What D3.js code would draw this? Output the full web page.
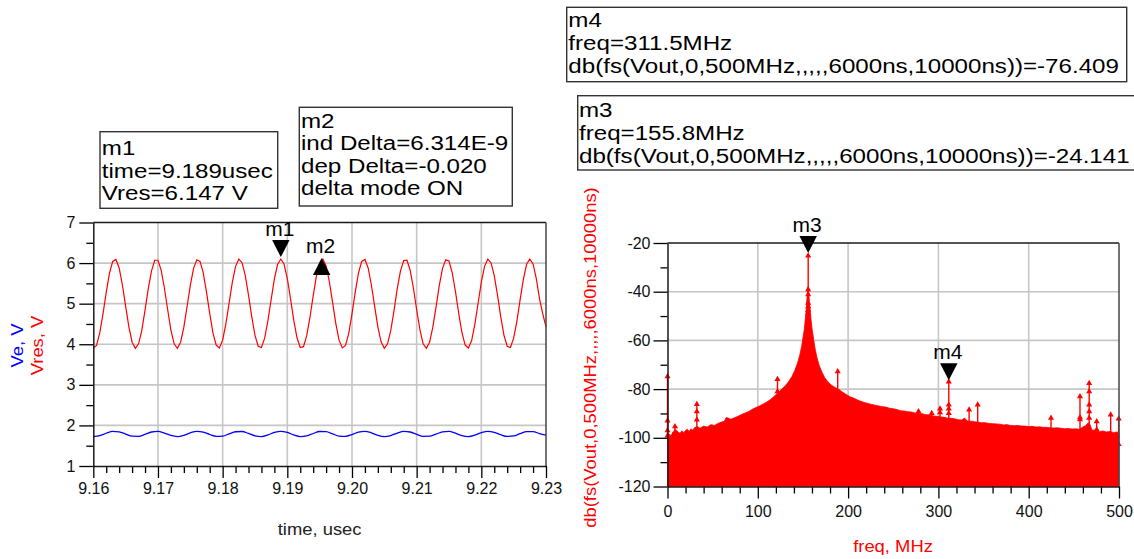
<!DOCTYPE html>
<html><head><meta charset="utf-8">
<script src="https://cdn.jsdelivr.net/npm/d3@7"></script>
<style>
html,body{margin:0;padding:0;background:#fff;}
svg{display:block;}
</style></head><body>
<svg id="c" width="1134" height="559"></svg>
<script>
// ---------------- DATA ----------------
// Left chart: transient waveforms (time in usec)
const timeStart = 9.16;
const vresStep = 0.0005;   // usec between Vres samples
const veStep = 0.001;      // usec between Ve samples
const vresValues = [
3.91,3.97,4.28,4.75,5.28,5.75,6.04,6.09,5.88,5.46,
4.94,4.43,4.05,3.90,4.01,4.34,4.84,5.37,5.81,6.07,
6.07,5.82,5.38,4.85,4.35,4.01,3.90,4.05,4.42,4.93,
5.45,5.87,6.08,6.04,5.76,5.29,4.76,4.28,3.98,3.91,
4.10,4.50,5.02,5.53,5.92,6.10,6.01,5.69,5.21,4.68,
4.22,3.95,3.92,4.15,4.58,5.10,5.61,5.97,6.10,5.97,
5.62,5.12,4.59,4.16,3.92,3.94,4.21,4.66,5.19,5.68,
6.01,6.10,5.93,5.54,5.03,4.51,4.10,3.91,3.97,4.27,
4.75,5.28,5.75,6.04,6.09,5.88,5.46,4.94,4.43,4.06,
3.90,4.01,4.34,4.83,5.37,5.81,6.06,6.07,5.82,5.38,
4.85,4.36,4.01,3.90,4.05,4.42,4.92,5.45,5.87,6.08,
6.05,5.76,5.30,4.76,4.29,3.98,3.91,4.09,4.49,5.01,
5.53,5.92,6.10,6.01,5.69,5.21,4.68,4.22,3.95,3.92,
4.15,4.57,5.10,5.60,5.97,6.10,5.98,5.62,5.12,4.75,
4.43];
const veValues = [
1.726,1.748,1.807,1.851,1.842,1.786,1.734,1.732,1.781,1.838,
1.853,1.812,1.752,1.725,1.756,1.817,1.854,1.835,1.776,1.730,
1.737,1.791,1.844,1.850,1.802,1.744,1.726,1.765,1.826,1.855,
1.827,1.766,1.726,1.743,1.801,1.850,1.845,1.792,1.737,1.729,
1.775,1.834,1.854,1.817,1.756,1.725,1.751,1.812,1.853,1.838,
1.781,1.732,1.734,1.785,1.841,1.852,1.808,1.748,1.726,1.760,
1.821,1.855,1.831,1.771,1.728,1.740,1.796,1.847,1.848,1.797,
1.760];
const timeTicks = [9.16,9.17,9.18,9.19,9.20,9.21,9.22,9.23];
const timeTickLabels = ["9.16","9.17","9.18","9.19","9.20","9.21","9.22","9.23"];
const voltTicks = [1,2,3,4,5,6,7];
const voltTickLabels = ["1","2","3","4","5","6","7"];

// Right chart: spectrum (freq MHz, dB)
const spectrumFloor = [
[0,-99.5],[2,-98.4],[4,-99.2],[6,-97.6],[8,-98.3],[10,-96.9],[12,-97.8],[14,-98.1],[16,-97.1],[18,-97.9],
[20,-97.0],[22,-96.5],[24,-97.4],[26,-96.3],[28,-96.9],[30,-95.8],[33,-95.4],[36,-96.1],[40,-95.2],[44,-95.6],
[48,-94.6],[52,-94.9],[56,-94.1],[60,-93.5],[63,-93.2],[65,-91.7],[67,-91.9],[70,-92.4],[74,-91.8],[78,-91.2],
[82,-90.4],[86,-89.8],[90,-89.2],[94,-88.3],[98,-87.6],[102,-86.9],[106,-86.1],[110,-85.3],[114,-84.3],[118,-83.0],
[122,-81.6],[126,-80.2],[130,-78.8],[134,-77.0],[138,-74.7],[141,-72.3],[144,-69.3],[146.5,-66.0],[148.5,-62.5],[150,-59.0],
[151.5,-55.5],[152.7,-51.0],[153.7,-47.0],[154.6,-42.0],[155.3,-39.0],[155.8,-38.0],[156.4,-40.0],[157.1,-44.0],[158,-47.5],[159,-51.5],
[160.2,-55.5],[161.8,-59.5],[163.5,-63.5],[165.5,-67.0],[168,-70.3],[171,-73.0],[174,-75.2],[178,-77.2],[182,-78.5],[186,-79.4],
[190,-80.2],[194,-81.3],[198,-82.2],[202,-83.1],[206,-83.7],[210,-84.4],[214,-85.0],[218,-85.5],[222,-85.9],[226,-86.3],
[230,-86.6],[234,-86.9],[238,-87.2],[242,-87.4],[246,-87.9],[250,-88.1],[254,-88.4],[258,-88.9],[262,-89.0],[266,-89.3],
[270,-89.4],[274,-89.8],[278,-90.0],[282,-90.1],[286,-90.5],[290,-90.6],[294,-91.0],[298,-91.2],[302,-91.4],[306,-91.6],
[310,-91.9],[314,-92.0],[318,-92.2],[322,-92.6],[326,-92.7],[329,-91.9],[332,-93.1],[336,-93.2],[340,-93.4],[344,-93.6],
[348,-93.8],[352,-93.8],[356,-94.1],[360,-94.2],[364,-94.3],[368,-94.4],[372,-94.7],[376,-94.6],[380,-94.9],[384,-95.0],
[388,-94.9],[392,-95.2],[396,-95.2],[400,-95.4],[404,-95.3],[408,-95.6],[412,-95.5],[416,-95.7],[420,-95.7],[424,-95.9],
[428,-96.0],[432,-95.9],[436,-96.1],[440,-96.3],[444,-96.2],[448,-96.4],[452,-96.3],[456,-96.5],[460,-95.6],[463,-95.0],
[466,-93.8],[468,-94.6],[470,-96.8],[474,-97.0],[478,-97.5],[482,-97.2],[486,-97.6],[490,-97.4],[494,-97.9],[498,-97.6],
[500,-98.0]];
// spikes: [freq, top dB, extra marked points below the top]
const spectrumSpikes = [
[0,-74.2,[-92.4,-96.4,-98.5]],
[8.3,-94.7,[-97.0]],
[32.5,-85.6,[-88.6,-92.0]],
[121.8,-75.3,[-80.4]],
[155.8,-24.6,[-38.5,-40.5,-44.0,-45.5,-47.0,-48.5,-50.0]],
[188.5,-72.2,[]],
[278.0,-88.6,[]],
[292.6,-89.3,[]],
[301.8,-87.5,[-89.0]],
[311.5,-76.4,[-85.8,-87.5,-89.3]],
[334.0,-87.9,[]],
[343.5,-85.8,[]],
[424.7,-91.3,[]],
[456.8,-82.4,[-91.0,-91.9]],
[467.0,-77.0,[-80.4,-85.8,-88.6,-91.3]],
[475.3,-92.7,[-96.0]],
[490.8,-89.9,[]],
[499.6,-91.6,[-102.0]]];
const freqTicks = [0,100,200,300,400,500];
const freqTickLabels = ["0","100","200","300","400","500"];
const dbTicks = [-120,-100,-80,-60,-40,-20];
const dbTickLabels = ["-120","-100","-80","-60","-40","-20"];

// markers
const markerNames = ["m1","m2","m3","m4"];
const markerX = [9.189, 9.195314, 155.8, 311.5];
const markerY = [6.147, 6.127, -24.141, -76.409];
const markerDir = ["down","up","down","down"];
const markerChart = ["L","L","R","R"];

// readout boxes
const m1Lines = ["m1","time=9.189usec","Vres=6.147 V"];
const m2Lines = ["m2","ind Delta=6.314E-9","dep Delta=-0.020","delta mode ON"];
const m4Lines = ["m4","freq=311.5MHz","db(fs(Vout,0,500MHz,,,,,6000ns,10000ns))=-76.409"];
const m3Lines = ["m3","freq=155.8MHz","db(fs(Vout,0,500MHz,,,,,6000ns,10000ns))=-24.141"];

// axis titles
const leftTitles = ["Ve, V","Vres, V"];
const leftTitleColors = ["#0000ff","#ff0000"];
const timeTitle = "time, usec";
const freqTitle = "freq, MHz";
const dbTitle = "db(fs(Vout,0,500MHz,,,,,6000ns,10000ns)";

// ---------------- DRAW ----------------
const FONT = '"Liberation Sans", Arial, Helvetica, sans-serif';
const RED = "#ff0000", BLUE = "#0000ff", GRID = "#c6c6c6", AX = "#1a1a1a";
const SX = 1.15; // horizontal stretch of the ADS font
const svg = d3.select("#c").attr("font-family", FONT);

function stretchedText(g, str, x, y, size, color, anchor, rot) {
  const t = g.append("g").attr("transform", `translate(${x},${y})` + (rot ? ` rotate(${rot})` : "") + ` scale(${SX},1)`);
  t.append("text").attr("x", 0).attr("y", 0).attr("font-size", size).attr("fill", color)
    .attr("text-anchor", anchor || "start").text(str);
}

function styleAxis(g, pad) {
  g.select(".domain").attr("stroke", AX).attr("stroke-width", 1.5);
  g.selectAll(".tick line").attr("stroke", "#000").attr("stroke-width", 1.3);
  g.selectAll(".tick text").attr("font-size", 16).attr("fill", "#111").attr("font-family", FONT);
}

function drawPanel(opt) {
  const {xS, yS, xTicks, xLabels, xMinor, yTicks, yLabels, yMinor, xPad, yPad} = opt;
  const [x0, x1] = xS.range();
  const [yb, yt] = yS.range();
  const g = svg.append("g");
  // grid
  g.selectAll(null).data(xTicks.slice(1, -1)).join("line")
    .attr("x1", d => xS(d)).attr("x2", d => xS(d)).attr("y1", yt).attr("y2", yb)
    .attr("stroke", GRID).attr("stroke-width", 1.6);
  g.selectAll(null).data(yTicks.slice(1, -1)).join("line")
    .attr("y1", d => yS(d)).attr("y2", d => yS(d)).attr("x1", x0).attr("x2", x1)
    .attr("stroke", GRID).attr("stroke-width", 1.6);
  const content = svg.append("g");
  const axes = svg.append("g");
  // frame top & right
  axes.append("line").attr("x1", x0).attr("x2", x1).attr("y1", yt).attr("y2", yt).attr("stroke", AX).attr("stroke-width", 1.5);
  axes.append("line").attr("x1", x1).attr("x2", x1).attr("y1", yt).attr("y2", yb).attr("stroke", "#444").attr("stroke-width", 1.5);
  // minor ticks
  axes.append("g").attr("transform", `translate(0,${yb})`)
    .call(d3.axisBottom(xS).tickValues(xMinor).tickSize(7).tickSizeOuter(0).tickFormat(""))
    .call(g => { g.select(".domain").remove(); styleAxis(g); });
  axes.append("g").attr("transform", `translate(${x0},0)`)
    .call(d3.axisLeft(yS).tickValues(yMinor).tickSize(7).tickSizeOuter(0).tickFormat(""))
    .call(g => { g.select(".domain").remove(); styleAxis(g); });
  // major
  axes.append("g").attr("transform", `translate(0,${yb})`)
    .call(d3.axisBottom(xS).tickValues(xTicks).tickSize(12).tickSizeOuter(0).tickPadding(xPad)
      .tickFormat((d, i) => xLabels[i]))
    .call(g => styleAxis(g));
  axes.append("g").attr("transform", `translate(${x0},0)`)
    .call(d3.axisLeft(yS).tickValues(yTicks).tickSize(14).tickSizeOuter(0).tickPadding(yPad)
      .tickFormat((d, i) => yLabels[i]))
    .call(g => styleAxis(g));
  return {content, axes};
}

// ---- Left panel
const xL = d3.scaleLinear().domain([9.16, 9.23]).range([93.3, 546]);
const yL = d3.scaleLinear().domain([1, 7]).range([466, 222.5]);
const timeMinor = d3.range(0, 36).filter(k => k % 5 !== 0).map(k => 9.16 + k * 0.002);
const voltMinor = [1.5, 2.5, 3.5, 4.5, 5.5, 6.5];
const L = drawPanel({xS: xL, yS: yL, xTicks: timeTicks, xLabels: timeTickLabels, xMinor: timeMinor,
  yTicks: voltTicks, yLabels: voltTickLabels, yMinor: voltMinor, xPad: 5, yPad: 4});

L.content.append("path").datum(veValues)
  .attr("d", d3.line().x((d, i) => xL(timeStart + i * veStep)).y(d => yL(d)).curve(d3.curveMonotoneX))
  .attr("fill", "none").attr("stroke", BLUE).attr("stroke-width", 1.3);
L.content.append("path").datum(vresValues)
  .attr("d", d3.line().x((d, i) => xL(timeStart + i * vresStep)).y(d => yL(d)))
  .attr("fill", "none").attr("stroke", RED).attr("stroke-width", 1.2);

// ---- Right panel
const xR = d3.scaleLinear().domain([0, 500]).range([667.5, 1119]);
const yR = d3.scaleLinear().domain([-120, -20]).range([486.5, 243]);
const freqMinor = d3.range(0, 26).filter(k => k % 5 !== 0).map(k => k * 20);
const dbMinor = [-110, -90, -70, -50, -30];
const R = drawPanel({xS: xR, yS: yR, xTicks: freqTicks, xLabels: freqTickLabels, xMinor: freqMinor,
  yTicks: dbTicks, yLabels: dbTickLabels, yMinor: dbMinor, xPad: 7, yPad: 3});

R.content.append("path").datum(spectrumFloor)
  .attr("d", d3.area().x(d => xR(d[0])).y0(yR(-120)).y1(d => yR(d[1])))
  .attr("fill", RED).attr("stroke", RED).attr("stroke-width", 0.8);
const tri = d3.symbol().type(d3.symbolTriangle).size(16);
spectrumSpikes.forEach(s => {
  const [f, top, extra] = s;
  R.content.append("line").attr("x1", xR(f)).attr("x2", xR(f))
    .attr("y1", yR(-100)).attr("y2", yR(top)).attr("stroke", RED).attr("stroke-width", 1.4);
  [top].concat(extra).forEach(v => {
    R.content.append("path").attr("d", tri)
      .attr("transform", `translate(${xR(f)},${yR(v) + 1.5})`).attr("fill", RED);
  });
});

// ---- Markers
markerNames.forEach((name, i) => {
  const xs = markerChart[i] === "L" ? xL : xR;
  const ys = markerChart[i] === "L" ? yL : yR;
  const px = xs(markerX[i]), py = ys(markerY[i]);
  const w = 17.5, h = 17;
  let d, labelY;
  if (markerDir[i] === "down") {
    d = `M${px - w / 2},${py - h}L${px + w / 2},${py - h}L${px},${py}Z`;
    labelY = py - h - 4.5;
  } else {
    d = `M${px - w / 2},${py + h}L${px + w / 2},${py + h}L${px},${py}Z`;
    labelY = py - 4.5;
  }
  svg.append("path").attr("d", d).attr("fill", "#000");
  svg.append("text").attr("x", px - 1).attr("y", labelY).attr("text-anchor", "middle")
    .attr("font-size", 21).attr("fill", "#000").text(name);
});

// ---- Readout boxes
function readout(lines, bx, by, bw, bh, tx, baselines) {
  const g = svg.append("g");
  g.append("rect").attr("x", bx).attr("y", by).attr("width", bw).attr("height", bh)
    .attr("fill", "#fff").attr("stroke", "#333").attr("stroke-width", 1.4);
  lines.forEach((s, i) => stretchedText(g, s, tx, baselines[i], 21, "#000", "start"));
}
readout(m1Lines, 100, 131.7, 177.7, 76.6, 101.8, [155, 177.7, 200]);
readout(m2Lines, 299.3, 107.3, 213, 98.7, 301, [127.7, 150, 172.7, 195]);
readout(m4Lines, 566.7, 7.3, 560, 74.4, 568.3, [27, 50, 73]);
readout(m3Lines, 577.7, 95.7, 570, 74.3, 579, [117, 140, 163]);

// ---- Axis titles
stretchedText(svg, leftTitles[0], 23, 345.5, 16, leftTitleColors[0], "middle", -90);
stretchedText(svg, leftTitles[1], 43, 345.5, 16, leftTitleColors[1], "middle", -90);
stretchedText(svg, timeTitle, 319.6, 535, 16, "#222", "middle");
stretchedText(svg, freqTitle, 893, 552, 16, RED, "middle");
stretchedText(svg, dbTitle, 596, 357.5, 16, RED, "middle", -90);
</script></body></html>
